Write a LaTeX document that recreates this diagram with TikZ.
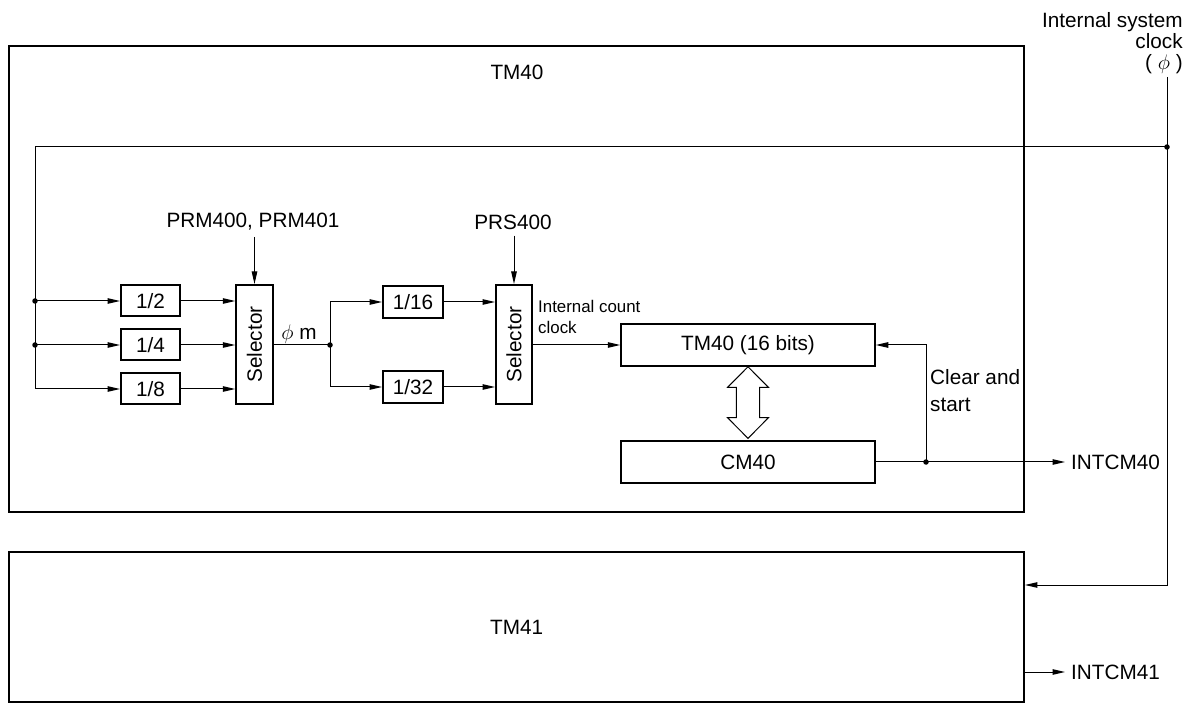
\documentclass[tikz,border=0pt]{standalone}
\usepackage{fontspec}
\setmainfont{Liberation Sans}
\usepackage{graphicx}
\usetikzlibrary{arrows.meta}

\begin{document}
\begin{tikzpicture}[x=0.2mm, y=-0.2mm,
    every node/.style={font=\fontsize{11.8}{14}\selectfont},
    frame/.style={draw, line width=0.4mm, inner sep=0},
    blk/.style={draw, line width=0.4mm, inner sep=0},
    wire/.style={line width=0.2mm},
    arr/.style={wire, -{Triangle[length=2.5mm, width=1.1mm]}},
    dot/.style={circle, fill, inner sep=0, minimum size=1.1mm}]

    \useasboundingbox (0,0) rectangle (1196,704);

    \node[frame, minimum width=20.29cm, minimum height=9.32cm] (tm40box) at (516.7,279) {};
    \node (tm40lbl) at (517,72.5) {TM40};
    \node[frame, minimum width=20.29cm, minimum height=3.01cm] (tm41box) at (516.7,627) {TM41};

    \node[anchor=north east, align=right, inner sep=0, font=\fontsize{11.8}{12}\selectfont] (clklbl) at (1183,12) {Internal system\\clock\\( $\phi$ )};

    \node[blk, minimum width=1.18cm, minimum height=0.62cm] (d2) at (150.5,301) {1/2};
    \node[blk, minimum width=1.18cm, minimum height=0.62cm] (d4) at (150.5,345) {1/4};
    \node[blk, minimum width=1.18cm, minimum height=0.62cm] (d8) at (150.5,389) {1/8};
    \node[blk, minimum width=0.73cm, minimum height=2.38cm] (selA) at (254.5,344.5) {\rotatebox{90}{Selector}};

    \node[blk, minimum width=1.2cm, minimum height=0.64cm] (d16) at (413,302) {1/16};
    \node[blk, minimum width=1.2cm, minimum height=0.64cm] (d32) at (413,387) {1/32};
    \node[blk, minimum width=0.72cm, minimum height=2.38cm] (selB) at (514,344.5) {\rotatebox{90}{Selector}};

    \node[blk, minimum width=5.07cm, minimum height=0.83cm] (tm) at (748,345) {TM40 (16 bits)};
    \node[blk, minimum width=5.07cm, minimum height=0.83cm] (cm) at (748,462) {CM40};

    \node (prm) at (253,222) {PRM400, PRM401};
    \node (prs) at (513,222) {PRS400};
    \node (phim) at (299,334) {$\phi$ m};
    \node[anchor=west, align=left, font=\fontsize{9.6}{11.9}\selectfont] (cntclk) at (532,317) {Internal count\\clock};
    \node[anchor=west, align=left, font=\fontsize{11.8}{15.3}\selectfont] (clr) at (924,391) {Clear and\\start};

    \node[dot] (jc) at (1167,147) {};
    \node[dot] (j2) at (35,301) {};
    \node[dot] (j4) at (35,345) {};
    \node[dot] (jm) at (330,345) {};
    \node[dot] (jr) at (926,462) {};
    \coordinate (clktop) at (1167,77);
    \coordinate (cnw) at (35,147);
    \coordinate (c8) at (35,389);
    \coordinate (c41) at (1167,585);
    \coordinate (o40) at (1065,462);
    \coordinate (o41) at (1065,672);

    \draw[wire] (clktop) -- (jc.center) -- (cnw) -- (c8);
    \draw[arr] (j2.center) -- (d2);
    \draw[arr] (j4.center) -- (d4);
    \draw[arr] (c8) -- (d8);

    \draw[arr] (d2) -- (d2 -| selA.west);
    \draw[arr] (d4) -- (d4 -| selA.west);
    \draw[arr] (d8) -- (d8 -| selA.west);
    \draw[arr] (prm.south -| selA.north) -- (selA.north);

    \draw[wire] (selA.east |- jm) -- (jm.center);
    \draw[arr] (jm.center) |- (d16.west);
    \draw[arr] (jm.center) |- (d32.west);
    \draw[arr] (d16) -- (d16 -| selB.west);
    \draw[arr] (d32) -- (d32 -| selB.west);
    \draw[arr] (prs.south -| selB.north) -- (selB.north);
    \draw[arr] (selB.east |- tm.west) -- (tm.west);

    \draw[wire] (tm.south) -- ++(20.5,20.7) -- ++(-8.8,0) -- ++(0,30.2) -- ++(8.8,0) -- ++(-20.5,20.7)
        -- ++(-20.5,-20.7) -- ++(8.8,0) -- ++(0,-30.2) -- ++(-8.8,0) -- cycle;

    \draw[wire] (cm) -- (jr.center);
    \draw[arr] (jr.center) -- (o40);
    \draw[arr] (jr.center) |- (tm.east);
    \node[anchor=west] (int40) at (o40) {INTCM40};

    \draw[arr] (jc.center) -- (c41) -- (c41 -| tm41box.east);
    \draw[arr] (tm41box.east |- o41) -- (o41);
    \node[anchor=west] (int41) at (o41) {INTCM41};
\end{tikzpicture}
\end{document}
